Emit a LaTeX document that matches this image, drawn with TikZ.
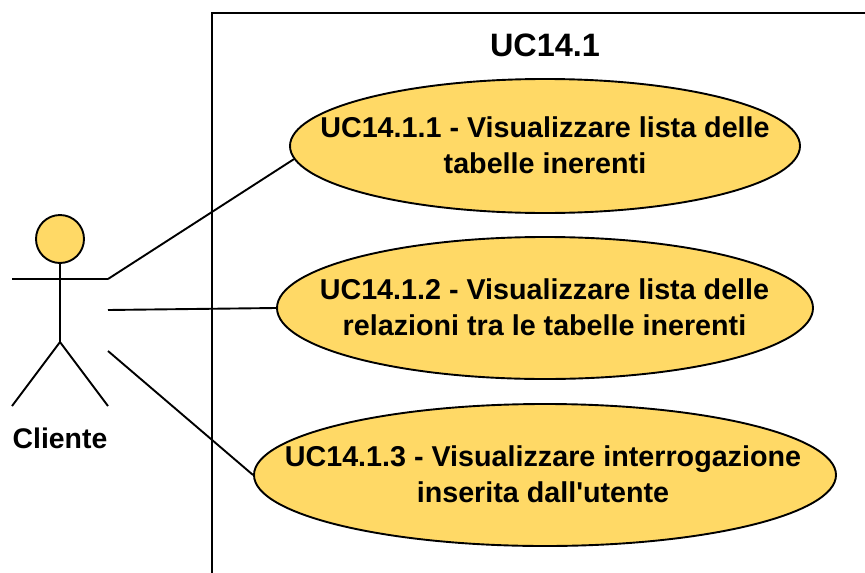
\documentclass[tikz,border=0pt]{standalone}
\usepackage{fontspec}
\setmainfont[Ligatures=TeXOff]{Liberation Sans}
\usetikzlibrary{positioning,shapes.geometric}
\definecolor{ucfill}{HTML}{FFD966}
\begin{document}
\begin{tikzpicture}[
    x=1pt, y=-1pt,
    semithick,
    usecase/.style={ellipse, draw, fill=ucfill, line width=1.9pt, inner sep=0pt},
    uctext/.style={align=center, inner sep=0pt, font=\fontsize{28.7}{36}\selectfont\bfseries},
    limb/.style={line width=1.9pt},
    title/.style={font=\fontsize{32.4}{38}\selectfont\bfseries}
]
\useasboundingbox (0,0) rectangle (865,573);

% System boundary
\coordinate (boxbl) at (212,573);
\coordinate (boxtl) at (212,13);
\coordinate (boxtr) at (865,13);
\draw[limb] (boxbl) -- (boxtl) -- (boxtr);
\node[title] (system) at (545,45) {UC14.1};

% Use cases
\node[usecase, minimum width=510pt, minimum height=134pt] (uc1) at (545,146) {};
\node[usecase, minimum width=536pt, minimum height=142pt] (uc2) at (545,308) {};
\node[usecase, minimum width=582pt, minimum height=142pt] (uc3) at (545,475) {};
\node[uctext] (uc1text) at (545,145) {UC14.1.1 - Visualizzare lista delle\\tabelle inerenti};
\node[uctext] (uc2text) at (544.5,307) {UC14.1.2 - Visualizzare lista delle\\relazioni tra le tabelle inerenti};
\node[uctext] (uc3text) at (543,474.5) {UC14.1.3 - Visualizzare interrogazione\\inserita dall'utente};

% Actor
\node[circle, draw, fill=ucfill, line width=1.9pt, minimum size=48pt, inner sep=0pt] (head) at (60,239) {};
\coordinate (hip) at (60,342);
\coordinate (handl) at (12,279);
\coordinate (handr) at (108,279);
\coordinate (footl) at (12,406);
\coordinate (footr) at (108,406);
\draw[limb] (head) -- (hip);
\draw[limb] (handl) -- (handr);
\draw[limb] (footl) -- (hip) -- (footr);
\node[font=\fontsize{28.4}{34}\selectfont\bfseries] (actor) at (60,438) {Cliente};

% Links
\coordinate (link1) at (108,279);
\coordinate (link2) at (108,310);
\coordinate (link3) at (108,351);
\draw[limb] (link1) -- (uc1.183);
\draw[limb] (link2) -- (uc2.west);
\draw[limb] (link3) -- (uc3.west);
\end{tikzpicture}
\end{document}
